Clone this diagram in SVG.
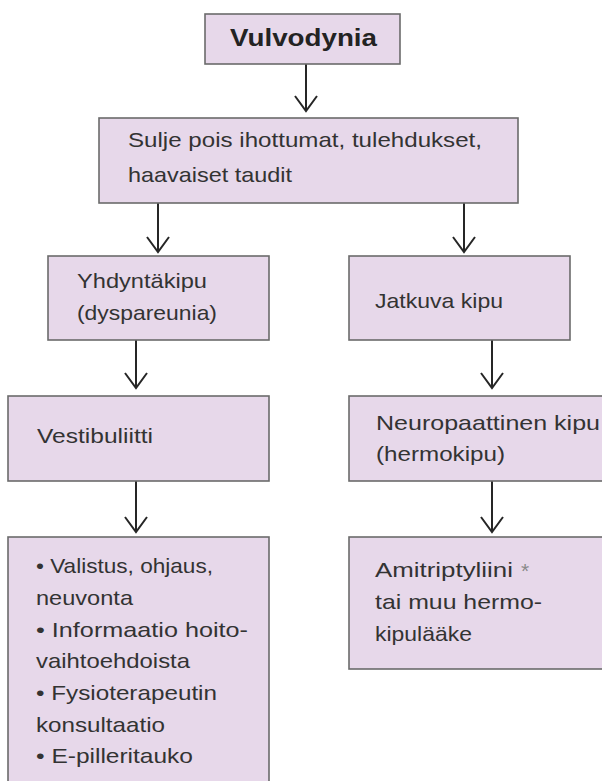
<svg xmlns="http://www.w3.org/2000/svg" width="602" height="781" viewBox="0 0 602 781">
<style>
.box{fill:#e7d8ea;stroke:#6b6b6b;stroke-width:1.6}
.t{font-family:"Liberation Sans",Arial,sans-serif;font-size:21px;fill:#333333}
.b{font-family:"Liberation Sans",Arial,sans-serif;font-size:23px;font-weight:bold;fill:#232323}
.ast{font-family:"Liberation Sans",Arial,sans-serif;font-size:21px;fill:#8a8a8a}
.c{stroke:#262626;stroke-width:2;fill:none}
</style>
<rect width="602" height="781" fill="#ffffff"/>
<g id="connectors">
<path class="c" d="M306 64V111M295 96L306 111L317 96"/>
<path class="c" d="M158 203V252M147 237L158 252L169 237"/>
<path class="c" d="M464 203V252M453 237L464 252L475 237"/>
<path class="c" d="M136 340V388M125 373L136 388L147 373"/>
<path class="c" d="M492 340V388M481 373L492 388L503 373"/>
<path class="c" d="M136 481V532M125 517L136 532L147 517"/>
<path class="c" d="M492 481V532M481 517L492 532L503 517"/>
</g>
<g id="vulvodynia">
<rect class="box" x="205" y="14" width="195" height="50"/>
<text class="b" x="230" y="46" textLength="147" lengthAdjust="spacingAndGlyphs">Vulvodynia</text>
</g>
<g id="sulje">
<rect class="box" x="99" y="118" width="419" height="85"/>
<text class="t" x="128" y="147" textLength="354" lengthAdjust="spacingAndGlyphs">Sulje pois ihottumat, tulehdukset,</text>
<text class="t" x="128" y="182" textLength="164" lengthAdjust="spacingAndGlyphs">haavaiset taudit</text>
</g>
<g id="yhdyntakipu">
<rect class="box" x="48" y="256" width="221" height="84"/>
<text class="t" x="77" y="288" textLength="130" lengthAdjust="spacingAndGlyphs">Yhdyntäkipu</text>
<text class="t" x="77" y="320" textLength="140" lengthAdjust="spacingAndGlyphs">(dyspareunia)</text>
</g>
<g id="jatkuva">
<rect class="box" x="349" y="256" width="221" height="84"/>
<text class="t" x="375" y="308" textLength="128" lengthAdjust="spacingAndGlyphs">Jatkuva kipu</text>
</g>
<g id="vestibuliitti">
<rect class="box" x="8" y="396" width="261" height="85"/>
<text class="t" x="37" y="443" textLength="116" lengthAdjust="spacingAndGlyphs">Vestibuliitti</text>
</g>
<g id="neuropaattinen">
<rect class="box" x="349" y="396" width="262" height="85"/>
<text class="t" x="376" y="430" textLength="224" lengthAdjust="spacingAndGlyphs">Neuropaattinen kipu</text>
<text class="t" x="376" y="461" textLength="129" lengthAdjust="spacingAndGlyphs">(hermokipu)</text>
</g>
<g id="hoito">
<rect class="box" x="8" y="537" width="261" height="260"/>
<text class="t" x="36" y="573" textLength="177" lengthAdjust="spacingAndGlyphs">• Valistus, ohjaus,</text>
<text class="t" x="36" y="605" textLength="97" lengthAdjust="spacingAndGlyphs">neuvonta</text>
<text class="t" x="36" y="637" textLength="212" lengthAdjust="spacingAndGlyphs">• Informaatio hoito-</text>
<text class="t" x="36" y="668" textLength="154" lengthAdjust="spacingAndGlyphs">vaihtoehdoista</text>
<text class="t" x="36" y="700" textLength="181" lengthAdjust="spacingAndGlyphs">• Fysioterapeutin</text>
<text class="t" x="36" y="732" textLength="129" lengthAdjust="spacingAndGlyphs">konsultaatio</text>
<text class="t" x="36" y="763" textLength="157" lengthAdjust="spacingAndGlyphs">• E-pilleritauko</text>
</g>
<g id="amitriptyliini">
<rect class="box" x="349" y="537" width="262" height="132"/>
<text class="t" x="375" y="577" textLength="138" lengthAdjust="spacingAndGlyphs">Amitriptyliini</text>
<text class="ast" x="521" y="578">*</text>
<text class="t" x="375" y="609" textLength="167" lengthAdjust="spacingAndGlyphs">tai muu hermo-</text>
<text class="t" x="375" y="641" textLength="97" lengthAdjust="spacingAndGlyphs">kipulääke</text>
</g>
</svg>
